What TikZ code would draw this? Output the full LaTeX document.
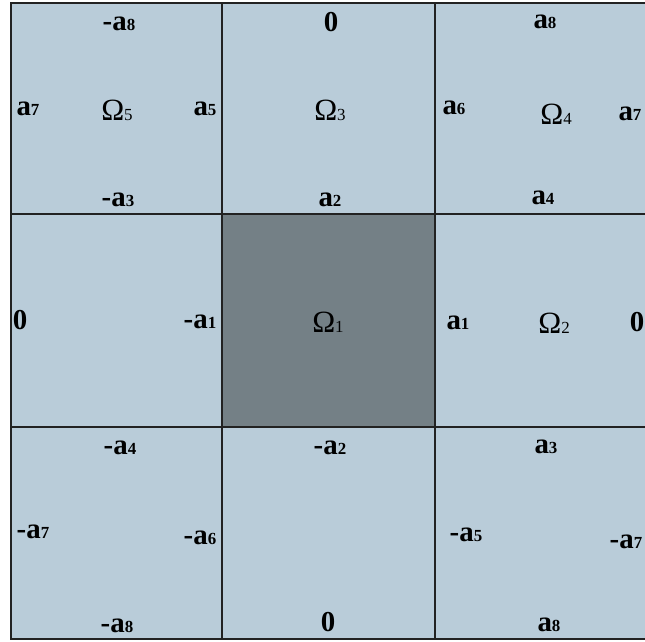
\documentclass[tikz,border=0pt]{standalone}
\usepackage{fontspec}
\setmainfont{Liberation Serif}
\definecolor{cellblue}{HTML}{B9CCD9}
\definecolor{celldark}{HTML}{748086}
\definecolor{gridline}{HTML}{222222}
\newcommand{\sbx}[1]{{\fontsize{17}{17}\selectfont #1}}
\begin{document}
\begin{tikzpicture}[x=1bp,y=-1bp,
  lbl/.style={inner sep=0pt, font=\fontsize{29}{29}\selectfont\bfseries},
  om/.style={inner sep=0pt, font=\fontsize{31}{31}\selectfont},
  gridln/.style={draw=gridline, line width=2bp}]
\useasboundingbox (0,0) rectangle (645,642);
\fill[cellblue] (11,3) rectangle (645,639);
\fill[celldark] (222,214) rectangle (435,427);
\draw[gridln] (645,3) -- (11,3) -- (11,639) -- (645,639);
\draw[gridln] (222,3) -- (222,639);
\draw[gridln] (435,3) -- (435,639);
\draw[gridln] (11,214) -- (645,214);
\draw[gridln] (11,427) -- (645,427);
% top-left cell
\node[lbl] (tl1) at (119,24) {-a\sbx{8}};
\node[lbl] (tl2) at (28,109) {a\sbx{7}};
\node[om]  (om5) at (117,110) {Ω\sbx{5}};
\node[lbl] (tl3) at (205,109) {a\sbx{5}};
\node[lbl] (tl4) at (118,200) {-a\sbx{3}};
% top-middle
\node[lbl] (tm1) at (331,22) {0};
\node[om]  (om3) at (330,110) {Ω\sbx{3}};
\node[lbl] (tm2) at (330,200) {a\sbx{2}};
% top-right
\node[lbl] (tr1) at (545,22) {a\sbx{8}};
\node[lbl] (tr2) at (454,108) {a\sbx{6}};
\node[om]  (om4) at (556,114) {Ω\sbx{4}};
\node[lbl] (tr3) at (630,114) {a\sbx{7}};
\node[lbl] (tr4) at (543,198) {a\sbx{4}};
% middle-left
\node[lbl] (ml1) at (20,320) {0};
\node[lbl] (ml2) at (200,322) {-a\sbx{1}};
% center
\node[om]  (om1) at (328,322) {Ω\sbx{1}};
% middle-right
\node[lbl] (mr1) at (458,323) {a\sbx{1}};
\node[om]  (om2) at (554,323) {Ω\sbx{2}};
\node[lbl] (mr2) at (637,322) {0};
% bottom-left
\node[lbl] (bl1) at (120,448) {-a\sbx{4}};
\node[lbl] (bl2) at (33,532) {-a\sbx{7}};
\node[lbl] (bl3) at (200,538) {-a\sbx{6}};
\node[lbl] (bl4) at (117,626) {-a\sbx{8}};
% bottom-middle
\node[lbl] (bm1) at (330,448) {-a\sbx{2}};
\node[lbl] (bm2) at (328,622) {0};
% bottom-right
\node[lbl] (br1) at (546,447) {a\sbx{3}};
\node[lbl] (br2) at (466,535) {-a\sbx{5}};
\node[lbl] (br3) at (626,542) {-a\sbx{7}};
\node[lbl] (br4) at (549,625) {a\sbx{8}};
\end{tikzpicture}
\end{document}
